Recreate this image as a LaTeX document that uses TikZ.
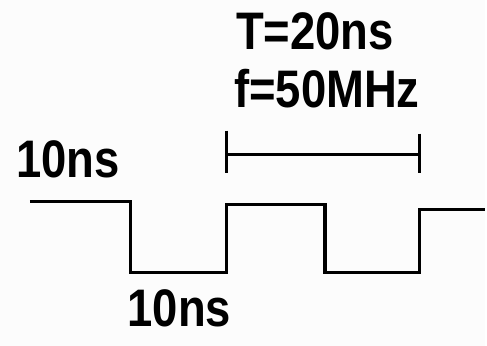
\documentclass[tikz,border=0pt]{standalone}
\usepackage{fontspec}
\setmainfont{Liberation Sans}[FakeStretch=0.86]
\usepackage{xcolor}
\usepackage{tikz}
\usetikzlibrary{positioning}
\definecolor{wavebg}{HTML}{FCFCFC}

\begin{document}
\begin{tikzpicture}[x=1pt, y=-1pt,
  lbl/.style={inner sep=0pt, anchor=base, font=\fontsize{53}{56}\selectfont\bfseries},
  wave/.style={line width=3.2pt, line join=miter},
]
  % background, fixes the size
  \fill[wavebg] (0,0) rectangle (487,347);

  % labels
  \node[lbl] (period) at (316,50) {T=20ns};
  \node[lbl] (freq) at (328,108) {f=50MHz};
  \node[lbl] (high) at (68,178) {10ns};
  \node[lbl] (low) at (180,328) {10ns};

  % period bar
  \coordinate (pL) at (227,155);
  \coordinate (pR) at (421,155);
  \draw[wave] (pL) -- (pR);
  \draw[wave] (227,131) -- (227,174);
  \draw[wave] (421,134) -- (421,174);

  % clock signal
  \draw[wave] (30,202) -- (131,202) -- (131,273) -- (227,273) -- (227,205)
    -- (326,205) -- (326,273) -- (421,273) -- (421,210) -- (487,210);
\end{tikzpicture}
\end{document}
